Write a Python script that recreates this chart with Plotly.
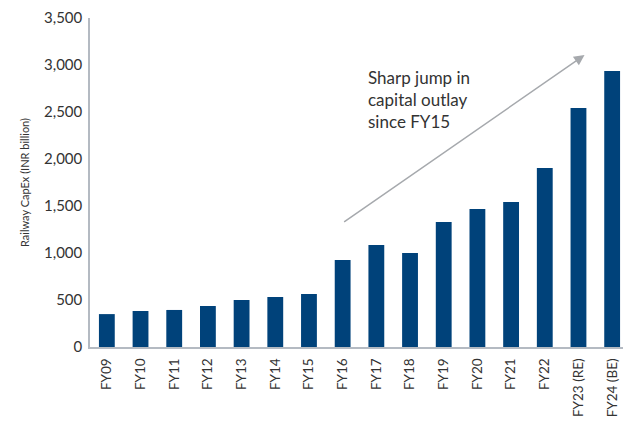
import plotly.graph_objects as go

years = ['FY09', 'FY10', 'FY11', 'FY12', 'FY13', 'FY14', 'FY15', 'FY16',
         'FY17', 'FY18', 'FY19', 'FY20', 'FY21', 'FY22', 'FY23 (RE)', 'FY24 (BE)']
capex = [350, 383, 394, 436, 500, 532, 564, 925,
         1085, 1000, 1330, 1468, 1542, 1904, 2542, 2936]

y_ticks = [0, 500, 1000, 1500, 2000, 2500, 3000, 3500]

BAR = '#00427a'
AXIS = '#b4bac2'
TXT = '#333333'
FONT = 'Lato, "Open Sans", sans-serif'

fig = go.Figure(go.Bar(x=years, y=capex, marker=dict(color=BAR, line=dict(width=0)),
                       width=0.47))

# trend arrow
fig.add_annotation(x=14.18, y=3106, ax=7.0, ay=1319,
                   xref='x', yref='y', axref='x', ayref='y',
                   text='', showarrow=True, arrowhead=2, arrowsize=1.4,
                   arrowwidth=1.5, arrowcolor='#a6a9ad')
fig.add_annotation(x=7.7, y=3000, xref='x', yref='y', xanchor='left', yanchor='top',
                   text='Sharp jump in<br>capital outlay<br>since FY15', showarrow=False,
                   align='left', font=dict(size=17, color=TXT, family=FONT))

# page body has an 8px margin, so the figure is sized/offset to compensate
fig.update_layout(
    width=623, height=413,
    margin=dict(l=82, r=2, t=10, b=74),
    paper_bgcolor='white', plot_bgcolor='white',
    showlegend=False,
    font=dict(family=FONT, color=TXT),
    bargap=0.53,
)
fig.update_xaxes(type='category', tickangle=-90, showline=True, linecolor=AXIS, linewidth=2,
                 ticks='', tickfont=dict(size=13.5, color=TXT), showgrid=False,
                 range=[-0.5, 15.5], automargin=False, ticklabelstandoff=4)
fig.update_yaxes(range=[0, 3500], tickvals=y_ticks, tickformat=',', showline=True,
                 linecolor=AXIS, linewidth=1.5, ticks='', showgrid=False, zeroline=False,
                 tickfont=dict(size=15, color=TXT), ticklabelstandoff=3, automargin=False,
                 title=dict(text='Railway CapEx (INR billion)', font=dict(size=11, color=TXT),
                            standoff=12))

fig.write_html('out.html')
